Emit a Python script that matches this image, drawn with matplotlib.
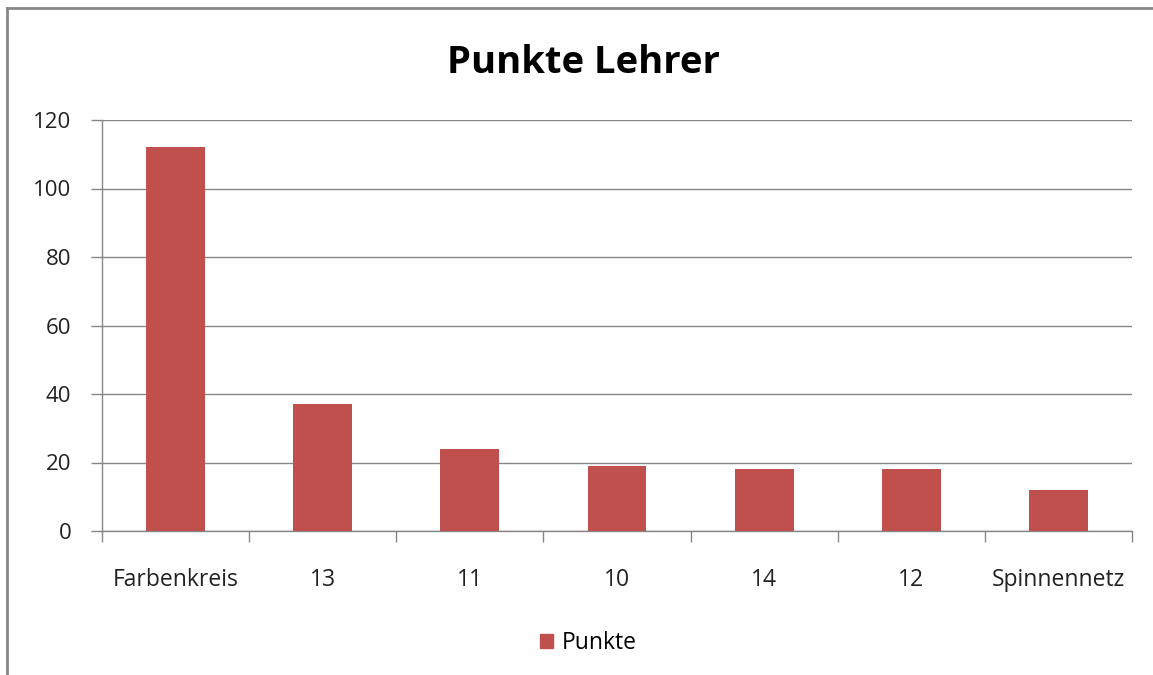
import matplotlib.pyplot as plt
from matplotlib.lines import Line2D
from matplotlib.patches import Patch

categories = ['Farbenkreis', '13', '11', '10', '14', '12', 'Spinnennetz']
punkte = [112, 37, 24, 19, 18, 18, 12]
yticks = [0, 20, 40, 60, 80, 100, 120]

bar_color = '#C0504D'
grid_color = '#868686'

plt.rcParams['font.family'] = ['Open Sans', 'DejaVu Sans']

fig = plt.figure(figsize=(11.53, 6.75), dpi=100)
ax = fig.add_axes([102 / 1153, 1 - 531 / 675, 1030 / 1153, 411 / 675])

x = range(len(categories))
ax.bar(x, punkte, width=0.4, color=bar_color, zorder=3)

ax.set_xlim(-0.5, len(categories) - 0.5)
ax.set_ylim(0, 120)
ax.set_yticks(yticks)
ax.set_yticklabels([str(v) for v in yticks], fontsize=16, color='#222222')
ax.yaxis.grid(True, color=grid_color, linewidth=1, zorder=0)

# category labels centred, tick marks on the boundaries
ax.set_xticks(list(x))
ax.set_xticklabels(categories, fontsize=16.5, color='#222222')
ax.tick_params(axis='x', length=0, pad=27)
ax.set_xticks([i - 0.5 for i in range(len(categories) + 1)], minor=True)
ax.tick_params(axis='x', which='minor', length=8, color=grid_color, width=1)
ax.tick_params(axis='y', length=8, color=grid_color, width=1, pad=14)

for side in ['top', 'right']:
    ax.spines[side].set_visible(False)
for side in ['left', 'bottom']:
    ax.spines[side].set_color(grid_color)
    ax.spines[side].set_linewidth(1)

fig.text(583 / 1153, 1 - 63 / 675, 'Punkte Lehrer', ha='center', va='center',
         fontsize=27.5, fontweight='bold', color='black')

fig.legend(handles=[Patch(color=bar_color, label='Punkte')],
           loc='center', bbox_to_anchor=(588 / 1153, 1 - 643 / 675),
           frameon=False, fontsize=16.5, handlelength=0.6, handleheight=0.6,
           handletextpad=0.35)

# outer chart frame (top and left edges)
fig.add_artist(Line2D([7 / 1153, 7 / 1153], [0, 1 - 8 / 675],
                      transform=fig.transFigure, color='#888888', linewidth=2))
fig.add_artist(Line2D([7 / 1153, 1], [1 - 8 / 675, 1 - 8 / 675],
                      transform=fig.transFigure, color='#888888', linewidth=2))

fig.savefig('out.png', dpi=100)
